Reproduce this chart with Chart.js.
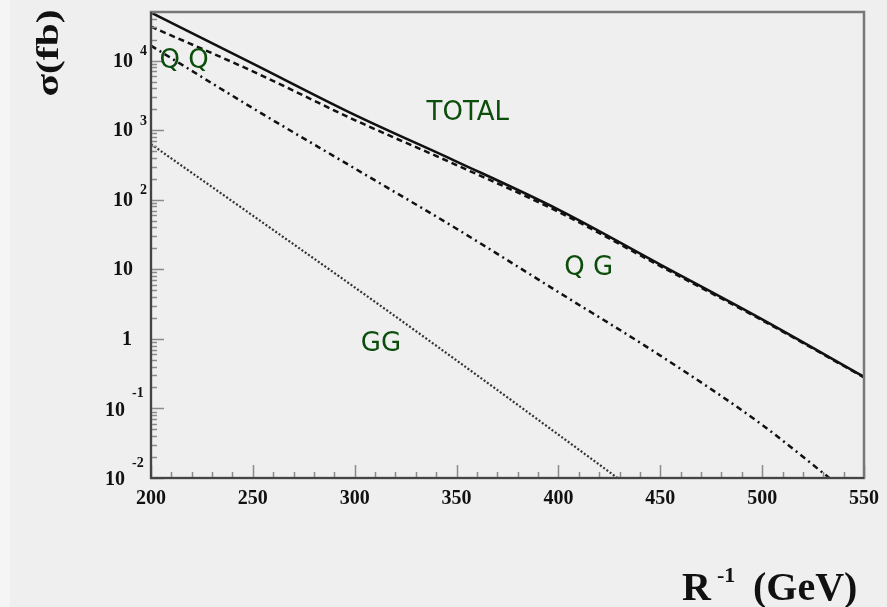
<!DOCTYPE html>
<html>
<head>
<meta charset="utf-8">
<script src="https://cdn.jsdelivr.net/npm/chart.js@4/dist/chart.umd.min.js"></script>
<style>
  html, body { margin: 0; padding: 0; background: #efefef; }
  #wrap { position: relative; width: 887px; height: 607px; }
  #strip { position: absolute; left: 0; top: 0; width: 10px; height: 607px; background: #f5f5f5; }
  canvas { position: absolute; left: 0; top: 0; }
</style>
</head>
<body>
<div id="wrap">
  <div id="strip"></div>
  <canvas id="chart" width="887" height="607"></canvas>
</div>
<script>
// ── Data (cross sections in fb vs R^-1 in GeV) ─────────────────────────────
const massPoints = [200, 250, 300, 350, 400, 450, 500, 550];
const totalXs    = [49000, 9060, 1660, 354, 72, 11.7, 1.91, 0.285];
const qqXs       = [30800, 7000, 1400, 315, 67, 11.1, 1.85, 0.28];

const qgPoints   = [200, 250, 300, 350, 400, 450, 500, 533];
const qgXs       = [16400, 2070, 282, 38.3, 4.7, 0.575, 0.058, 0.01];

const ggPoints   = [200, 250, 300, 350, 400, 429];
const ggXs       = [630, 59, 5.5, 0.49, 0.042, 0.01];

const xTicks     = [200, 250, 300, 350, 400, 450, 500, 550];
const yTicks     = [0.01, 0.1, 1, 10, 100, 1000, 10000];
const yTickExp   = ['-2', '-1', '', '', '2', '3', '4'];

const pts = (xs, ys) => xs.map((x, i) => ({ x, y: ys[i] }));

// ── Frame, ticks, labels ───────────────────────────────────────────────────
const SERIF = '"Liberation Serif", "DejaVu Serif", serif';
const GREEN = '#0b4d0b';

const curveLabels = [
  { text: 'Q Q',   x: 216.2, y: 9700 },
  { text: 'TOTAL', x: 355.5, y: 1730 },
  { text: 'Q G',   x: 414.9, y: 10.2 },
  { text: 'GG',    x: 312.9, y: 0.85 },
];

const framePlugin = {
  id: 'frame',
  afterDraw(chart) {
    const { ctx, chartArea: a, scales: { x, y } } = chart;
    ctx.save();

    // minor + major ticks on left axis (inside)
    ctx.strokeStyle = '#8a8a8a';
    ctx.lineWidth = 1.5;
    for (let d = -2; d <= 4; d++) {
      for (let m = 1; m <= 9; m++) {
        const v = m * Math.pow(10, d);
        if (v > y.max) break;
        const py = Math.round(y.getPixelForValue(v)) + 0.5;
        const len = m === 1 ? 13 : 6;
        ctx.beginPath();
        ctx.moveTo(a.left, py);
        ctx.lineTo(a.left + len, py);
        ctx.stroke();
      }
    }
    // ticks on bottom axis (inside)
    for (let v = 200; v <= 550; v += 10) {
      const px = Math.round(x.getPixelForValue(v)) + 0.5;
      const len = v % 50 === 0 ? 13 : 6;
      ctx.beginPath();
      ctx.moveTo(px, a.bottom);
      ctx.lineTo(px, a.bottom - len);
      ctx.stroke();
    }

    // frame
    ctx.strokeStyle = '#777';
    ctx.lineWidth = 2.5;
    ctx.strokeRect(a.left, a.top, a.right - a.left, a.bottom - a.top);
    ctx.strokeStyle = '#444';
    ctx.lineWidth = 2;
    ctx.beginPath();
    ctx.moveTo(a.left, a.top);
    ctx.lineTo(a.left, a.bottom);
    ctx.lineTo(a.right, a.bottom);
    ctx.stroke();

    // x tick labels
    ctx.fillStyle = '#111';
    ctx.font = `bold 20px ${SERIF}`;
    ctx.textAlign = 'center';
    ctx.textBaseline = 'middle';
    xTicks.forEach(v => ctx.fillText(String(v), x.getPixelForValue(v), a.bottom + 21));

    // y tick labels (ROOT style exponents)
    yTicks.forEach((v, i) => {
      const py = y.getPixelForValue(v);
      const exp = yTickExp[i];
      ctx.textBaseline = 'middle';
      if (exp === '') {
        ctx.font = `bold 20px ${SERIF}`;
        ctx.textAlign = 'right';
        ctx.fillText(v === 1 ? '1' : '10', v === 1 ? a.left - 19 : a.left - 18, py + 1);
      } else if (exp.startsWith('-')) {
        ctx.font = `bold 20px ${SERIF}`;
        ctx.textAlign = 'right';
        ctx.fillText('10', a.left - 26, py + 2);
        ctx.font = `bold 14px ${SERIF}`;
        ctx.textAlign = 'left';
        ctx.fillText(exp, a.left - 19, py - 15);
      } else {
        ctx.font = `bold 20px ${SERIF}`;
        ctx.textAlign = 'right';
        ctx.fillText('10', a.left - 18, py + 1);
        ctx.font = `bold 14px ${SERIF}`;
        ctx.textAlign = 'left';
        ctx.fillText(exp, a.left - 11, py - 9);
      }
    });

    // axis titles
    ctx.save();
    ctx.translate(50, 53);
    ctx.rotate(-Math.PI / 2);
    ctx.font = `bold 32px ${SERIF}`;
    const tw = ctx.measureText('σ(fb)').width;
    ctx.scale(87 / tw, 1);
    ctx.textAlign = 'center';
    ctx.textBaseline = 'middle';
    ctx.fillText('σ(fb)', 0, 0);
    ctx.restore();

    ctx.textAlign = 'left';
    ctx.textBaseline = 'alphabetic';
    ctx.font = `bold 40px ${SERIF}`;
    ctx.fillText('R', 682, 600);
    ctx.fillText('(GeV)', 753, 600);
    ctx.font = `bold 22px ${SERIF}`;
    ctx.fillText('-1', 717, 582);

    // curve labels
    ctx.fillStyle = GREEN;
    ctx.font = '26px "DejaVu Sans", sans-serif';
    ctx.textAlign = 'center';
    ctx.textBaseline = 'middle';
    curveLabels.forEach(l => ctx.fillText(l.text, x.getPixelForValue(l.x), y.getPixelForValue(l.y)));

    ctx.restore();
  },
};

// ── Chart ──────────────────────────────────────────────────────────────────
const line = (data, opts) => ({
  data, borderColor: '#111', borderWidth: 2.5, pointRadius: 0,
  cubicInterpolationMode: 'monotone', fill: false, ...opts,
});

new Chart(document.getElementById('chart'), {
  type: 'line',
  data: {
    datasets: [
      line(pts(massPoints, totalXs), { label: 'TOTAL', borderWidth: 2.6 }),
      line(pts(massPoints, qqXs),    { label: 'QQ', borderDash: [6, 4] }),
      line(pts(qgPoints, qgXs),      { label: 'QG', borderDash: [6, 4, 2, 4] }),
      line(pts(ggPoints, ggXs),      { label: 'GG', borderWidth: 2.2, borderColor: '#333', borderDash: [2, 2] }),
    ],
  },
  options: {
    responsive: false, animation: false,
    layout: { padding: { left: 151, right: 23, top: 12, bottom: 129 } },
    plugins: { legend: { display: false }, tooltip: { enabled: false } },
    scales: {
      x: { type: 'linear', min: 200, max: 550, display: false },
      y: { type: 'logarithmic', min: 0.01, max: 50000, display: false },
    },
  },
  plugins: [framePlugin],
});
</script>
</body>
</html>
